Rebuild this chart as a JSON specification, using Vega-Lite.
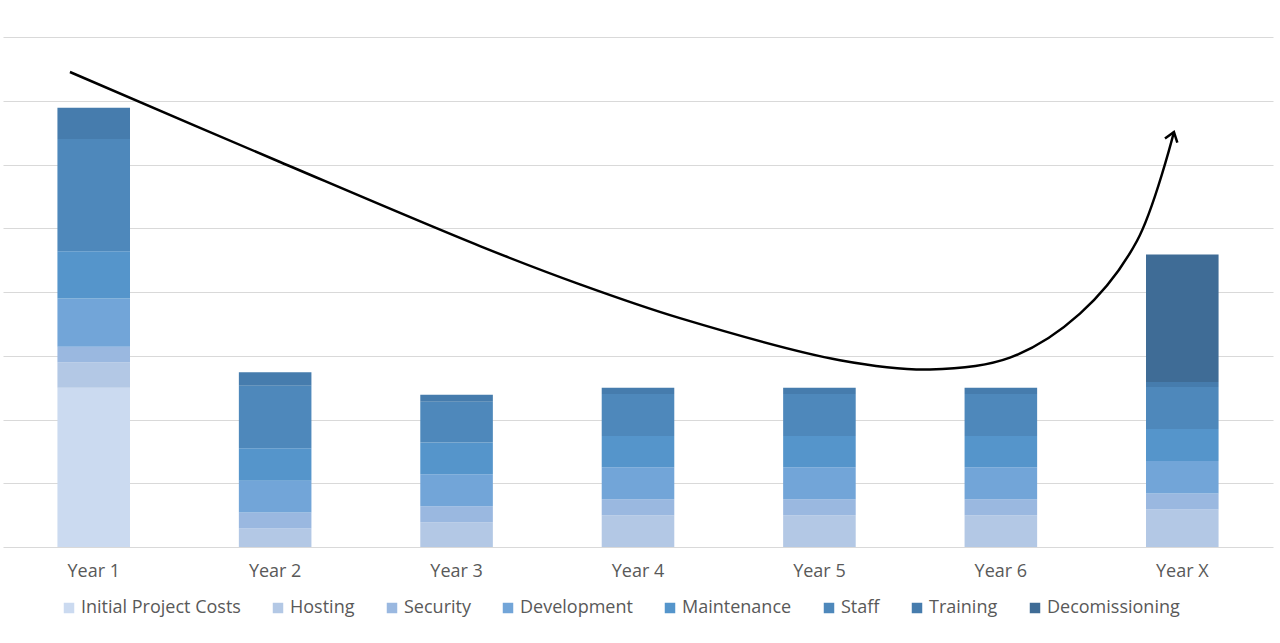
{
  "$schema": "https://vega.github.io/schema/vega-lite/v6.json",
  "width": 1270,
  "height": 510,
  "padding": {"left": 3, "top": 37, "right": 7, "bottom": 0},
  "background": "white",
  "config": {
    "view": {"stroke": null},
    "font": "Open Sans"
  },
  "datasets": {
    "costs": [
      {"year": "Year 1", "cat": "Initial Project Costs", "k": 1, "v": 25},
      {"year": "Year 1", "cat": "Hosting", "k": 2, "v": 4},
      {"year": "Year 1", "cat": "Security", "k": 3, "v": 2.4},
      {"year": "Year 1", "cat": "Development", "k": 4, "v": 7.6},
      {"year": "Year 1", "cat": "Maintenance", "k": 5, "v": 7.4},
      {"year": "Year 1", "cat": "Staff", "k": 6, "v": 17.6},
      {"year": "Year 1", "cat": "Training", "k": 7, "v": 4.9},
      {"year": "Year 2", "cat": "Hosting", "k": 2, "v": 2.9},
      {"year": "Year 2", "cat": "Security", "k": 3, "v": 2.5},
      {"year": "Year 2", "cat": "Development", "k": 4, "v": 5},
      {"year": "Year 2", "cat": "Maintenance", "k": 5, "v": 5.1},
      {"year": "Year 2", "cat": "Staff", "k": 6, "v": 9.8},
      {"year": "Year 2", "cat": "Training", "k": 7, "v": 2.1},
      {"year": "Year 3", "cat": "Hosting", "k": 2, "v": 3.9},
      {"year": "Year 3", "cat": "Security", "k": 3, "v": 2.5},
      {"year": "Year 3", "cat": "Development", "k": 4, "v": 5},
      {"year": "Year 3", "cat": "Maintenance", "k": 5, "v": 5},
      {"year": "Year 3", "cat": "Staff", "k": 6, "v": 6.4},
      {"year": "Year 3", "cat": "Training", "k": 7, "v": 1.1},
      {"year": "Year 4", "cat": "Hosting", "k": 2, "v": 5},
      {"year": "Year 4", "cat": "Security", "k": 3, "v": 2.5},
      {"year": "Year 4", "cat": "Development", "k": 4, "v": 5},
      {"year": "Year 4", "cat": "Maintenance", "k": 5, "v": 4.9},
      {"year": "Year 4", "cat": "Staff", "k": 6, "v": 6.6},
      {"year": "Year 4", "cat": "Training", "k": 7, "v": 1},
      {"year": "Year 5", "cat": "Hosting", "k": 2, "v": 5},
      {"year": "Year 5", "cat": "Security", "k": 3, "v": 2.5},
      {"year": "Year 5", "cat": "Development", "k": 4, "v": 5},
      {"year": "Year 5", "cat": "Maintenance", "k": 5, "v": 4.9},
      {"year": "Year 5", "cat": "Staff", "k": 6, "v": 6.6},
      {"year": "Year 5", "cat": "Training", "k": 7, "v": 1},
      {"year": "Year 6", "cat": "Hosting", "k": 2, "v": 5},
      {"year": "Year 6", "cat": "Security", "k": 3, "v": 2.5},
      {"year": "Year 6", "cat": "Development", "k": 4, "v": 5},
      {"year": "Year 6", "cat": "Maintenance", "k": 5, "v": 4.9},
      {"year": "Year 6", "cat": "Staff", "k": 6, "v": 6.6},
      {"year": "Year 6", "cat": "Training", "k": 7, "v": 1},
      {"year": "Year X", "cat": "Hosting", "k": 2, "v": 5.9},
      {"year": "Year X", "cat": "Security", "k": 3, "v": 2.5},
      {"year": "Year X", "cat": "Development", "k": 4, "v": 5.1},
      {"year": "Year X", "cat": "Maintenance", "k": 5, "v": 5},
      {"year": "Year X", "cat": "Staff", "k": 6, "v": 6.6},
      {"year": "Year X", "cat": "Training", "k": 7, "v": 0.8},
      {"year": "Year X", "cat": "Decomissioning", "k": 8, "v": 20}
    ],
    "curve": [
      {"t": 0.369, "c": 74.51},
      {"t": 1.527, "c": 60.39},
      {"t": 2.629, "c": 47.2},
      {"t": 3.18, "c": 41.2},
      {"t": 3.731, "c": 35.9},
      {"t": 4.613, "c": 29.3},
      {"t": 5.109, "c": 27.84},
      {"t": 5.55, "c": 29.7},
      {"t": 5.936, "c": 36.6},
      {"t": 6.25, "c": 48.0},
      {"t": 6.454, "c": 65.1}
    ],
    "tip": [
      {"t": 6.454, "c": 65.1}
    ]
  },
  "layer": [
    {
      "data": {"name": "costs"},
      "mark": {"type": "bar"},
      "encoding": {
        "x": {
          "field": "year",
          "type": "nominal",
          "sort": null,
          "scale": {"paddingInner": 0.6, "paddingOuter": 0.3},
          "axis": {
            "title": null,
            "domain": false,
            "ticks": false,
            "labelAngle": 0,
            "labelFontSize": 18,
            "labelColor": "#595959",
            "labelPadding": 15
          }
        },
        "y": {
          "field": "v",
          "type": "quantitative",
          "stack": "zero",
          "scale": {"domain": [0, 80], "nice": false},
          "axis": {
            "title": null,
            "labels": false,
            "ticks": false,
            "domain": false,
            "grid": true,
            "gridColor": "#d9d9d9",
            "gridWidth": 1,
            "values": [0, 10, 20, 30, 40, 50, 60, 70, 80]
          }
        },
        "color": {
          "field": "cat",
          "type": "nominal",
          "scale": {
            "domain": ["Initial Project Costs", "Hosting", "Security", "Development", "Maintenance", "Staff", "Training", "Decomissioning"],
            "range": ["#cbdaf0", "#b3c8e5", "#9ab8e0", "#72a5d8", "#5595cb", "#4e88bb", "#467cad", "#3f6c96"]
          },
          "legend": {
            "title": null,
            "orient": "none",
            "legendX": 57,
            "legendY": 562,
            "direction": "horizontal",
            "symbolType": "square",
            "symbolSize": 110,
            "symbolStrokeWidth": 0,
            "labelFontSize": 18,
            "labelColor": "#595959",
            "labelOffset": 3,
            "columnPadding": 28,
            "columns": 8
          }
        },
        "order": {"field": "k", "type": "quantitative"}
      }
    },
    {
      "data": {"name": "curve"},
      "mark": {"type": "line", "color": "black", "strokeWidth": 2.5, "interpolate": "catmull-rom"},
      "encoding": {
        "x": {"field": "t", "type": "quantitative", "scale": {"domain": [0, 7], "nice": false, "zero": false}, "axis": null},
        "y": {"field": "c", "type": "quantitative"}
      }
    },
    {
      "data": {"name": "tip"},
      "mark": {
        "type": "point",
        "shape": "M-0.65,0.9L0,0L0.65,0.9",
        "filled": false,
        "stroke": "black",
        "strokeWidth": 2.5,
        "size": 400,
        "angle": 18,
        "opacity": 1
      },
      "encoding": {
        "x": {"field": "t", "type": "quantitative", "scale": {"domain": [0, 7], "nice": false, "zero": false}, "axis": null},
        "y": {"field": "c", "type": "quantitative"}
      }
    }
  ],
  "resolve": {"scale": {"x": "independent"}}
}
